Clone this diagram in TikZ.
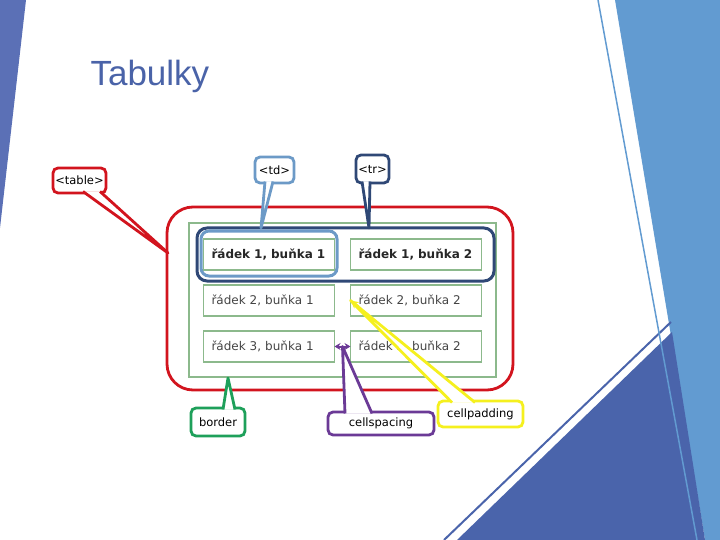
\documentclass[tikz,border=0pt]{standalone}
\usepackage{fontspec}
\setmainfont{Liberation Sans}
\newfontfamily\cellfont{DejaVu Sans}
\usetikzlibrary{positioning,calc,arrows.meta}

\definecolor{titleblue}{RGB}{74,99,168}
\definecolor{leftblue}{RGB}{91,112,182}
\definecolor{rightblue}{RGB}{98,155,209}
\definecolor{darkblue}{RGB}{74,100,171}
\definecolor{tablered}{RGB}{210,20,30}
\definecolor{tablegreen}{RGB}{140,185,140}
\definecolor{cellgray}{RGB}{68,68,68}
\definecolor{trnavy}{RGB}{47,72,118}
\definecolor{tdblue}{RGB}{108,154,199}
\definecolor{brdgreen}{RGB}{30,160,90}
\definecolor{csppurple}{RGB}{107,58,150}
\definecolor{cpdyellow}{RGB}{245,240,30}

\tikzset{
  cell/.style={draw=tablegreen, line width=1.2pt, text width=115pt, inner xsep=8pt,
    inner ysep=0pt, minimum height=31pt, align=left, outer sep=0pt, text=cellgray,
    font=\cellfont\fontsize{12}{14}\selectfont},
  headcell/.style={cell, text=black!85, font=\cellfont\bfseries\fontsize{12}{14}\selectfont},
  tagbox/.style={draw=#1, line width=2.8pt, fill=white, rounded corners=5pt,
    inner sep=0pt, outer sep=0pt, font=\cellfont\fontsize{11.5}{13}\selectfont},
  tagtail/.style={draw=#1, line width=2.8pt, fill=white, line join=round},
}

\begin{document}
\begin{tikzpicture}[x=1pt, y=-1pt]
  \useasboundingbox (0,0) rectangle (720,540);
  % slide background
  \fill[leftblue] (0,0) -- (26,0) -- (0,228) -- cycle;
  \fill[rightblue] (615,0) -- (720,0) -- (720,540) -- (705,540) -- cycle;
  \fill[darkblue] (672,332) -- (705,540) -- (457,540) -- cycle;
  \draw[darkblue, line width=2pt] (671,322) -- (444,540);
  \draw[rightblue, line width=1.5pt] (598,0) -- (697,540);

  \node[anchor=base west, text=titleblue, font=\fontsize{35}{40}\selectfont]
    (title) at (87,86) {Tabulky};

  % the table
  \draw[tablered, line width=2.8pt, rounded corners=26pt] (167,207) rectangle (513,390);
  \draw[tablegreen, line width=1.2pt] (189,223) rectangle (496,377);
  \node[headcell] (c11) at (269,254.5) {řádek 1, buňka 1};
  \node[headcell, right=16pt of c11] (c12) {řádek 1, buňka 2};
  \node[cell, below=15pt of c11] (c21) {řádek 2, buňka 1};
  \node[cell, below=15pt of c12] (c22) {řádek 2, buňka 2};
  \node[cell, below=15pt of c21] (c31) {řádek 3, buňka 1};
  \node[cell, below=15pt of c22] (c32) {řádek 3, buňka 2};
  \draw[trnavy, line width=3pt, rounded corners=10pt] (197,228) rectangle (494,281);
  \draw[tdblue, line width=3pt, rounded corners=8pt] (201,231) rectangle (337,276);

  % callouts
  \node[tagbox=tablered, minimum width=53pt, minimum height=25pt] (tbl) at (79.5,180.5) {<table>};
  \node[tagbox=tdblue, minimum width=39pt, minimum height=26pt] (td) at (274.5,170) {<td>};
  \node[tagbox=trnavy, minimum width=33pt, minimum height=28pt] (tr) at (372.5,169) {<tr>};
  \node[tagbox=brdgreen, minimum width=54pt, minimum height=28pt] (brd) at (218,422) {border};
  \node[tagbox=csppurple, minimum width=106pt, minimum height=23pt] (csp) at (381,423.5) {cellspacing};
  \node[tagbox=cpdyellow, minimum width=85pt, minimum height=26pt] (cpd) at (480.5,414) {cellpadding};

  \coordinate (tbltip) at (168,253);
  \coordinate (tdtip) at (261,228);
  \coordinate (trtip) at (369,228);
  \coordinate (brdtip) at (228,378);
  \coordinate (csptip) at ($(c31.east)!0.5!(c32.west)$);

  \filldraw[tagtail=tablered] ($(tbl.south west)+(30,-1.5)$) -- (tbltip) -- ($(tbl.south west)+(47,-1.5)$);
  \filldraw[tagtail=tdblue] ($(td.south west)+(10,-1.5)$) -- (tdtip) -- ($(td.south west)+(18,-1.5)$);
  \filldraw[tagtail=trnavy] ($(tr.south west)+(6,-1.5)$) -- (trtip) -- ($(tr.south west)+(14,-1.5)$);
  \filldraw[tagtail=brdgreen] ($(brd.north west)+(32,1.5)$) -- (brdtip) -- ($(brd.north west)+(44,1.5)$);
  \draw[csppurple, line width=2pt, {Stealth[length=6pt,width=7pt]}-{Stealth[length=6pt,width=7pt]}]
    (c31.east) -- (c32.west);
  \filldraw[tagtail=csppurple] ($(csp.north west)+(17,1.5)$) -- (csptip) -- ($(csp.north west)+(44,1.5)$);
  \filldraw[tagtail=cpdyellow] ($(cpd.north west)+(14,1.5)$) -- (c22.west) -- ($(cpd.north west)+(37,1.5)$);
  \draw[cpdyellow, line width=2.5pt, -{Stealth[length=8pt,width=8pt]}]
    ($(c22.west)!10pt!(cpd.north)$) -- (c22.west);
\end{tikzpicture}
\end{document}
